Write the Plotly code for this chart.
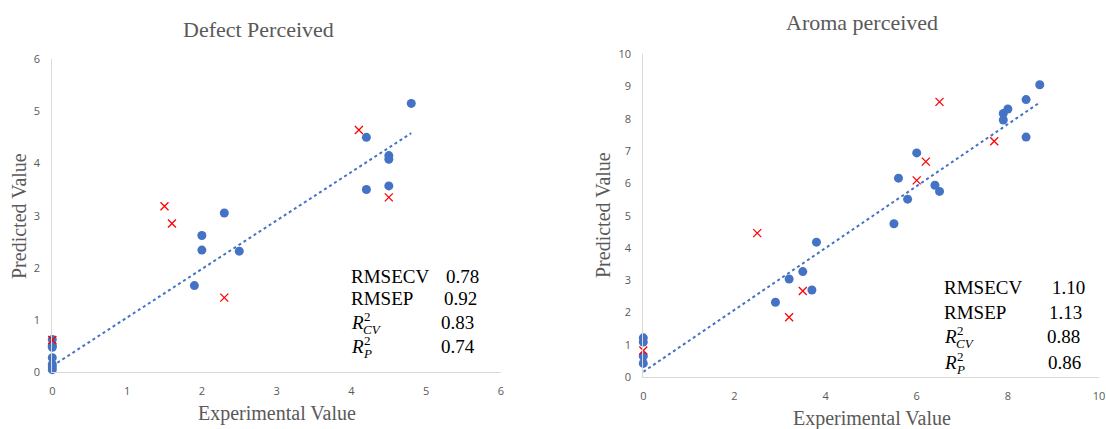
import plotly.graph_objects as go

# ---------------- data ----------------
# Defect perceived
defect_cal_x = [0, 0, 0, 0, 0, 0, 0, 1.9, 2.0, 2.0, 2.3, 2.5, 4.2, 4.2, 4.5, 4.5, 4.5, 4.8]
defect_cal_y = [0.63, 0.52, 0.48, 0.28, 0.15, 0.10, 0.05, 1.66, 2.62, 2.34, 3.05, 2.32, 4.50, 3.50, 4.15, 4.08, 3.57, 5.15]
defect_val_x = [0, 1.5, 1.6, 2.3, 4.1, 4.5]
defect_val_y = [0.62, 3.18, 2.85, 1.43, 4.64, 3.35]
defect_trend_x = [0, 4.8]
defect_trend_y = [0.12, 4.58]

# Aroma perceived
aroma_cal_x = [0, 0, 0, 0, 2.9, 3.2, 3.5, 3.7, 3.8, 5.5, 5.6, 5.8, 6.0, 6.4, 6.5, 7.9, 7.9, 8.0, 8.4, 8.4, 8.7]
aroma_cal_y = [1.22, 1.09, 0.65, 0.43, 2.32, 3.04, 3.27, 2.70, 4.18, 4.75, 6.16, 5.51, 6.94, 5.94, 5.75, 8.16, 7.96, 8.30, 8.59, 7.43, 9.05]
aroma_val_x = [0, 2.5, 3.2, 3.5, 6.0, 6.2, 6.5, 7.7]
aroma_val_y = [0.83, 4.46, 1.86, 2.67, 6.09, 6.67, 8.52, 7.30]
aroma_trend_x = [0, 8.7]
aroma_trend_y = [0.17, 8.50]

titles = ["Defect Perceived", "Aroma perceived"]
stat_labels = ["RMSECV", "RMSEP"]
defect_stats = ["0.78", "0.92", "0.83", "0.74"]
aroma_stats = ["1.10", "1.13", "0.88", "0.86"]

# ---------------- style ----------------
W, H = 1106, 429
BLUE = "#4472C4"
RED = "#FF0000"
SERIF = "Liberation Serif, Times New Roman, serif"
SANS = "Open Sans, Liberation Sans, sans-serif"
GRAY = "#595959"
AX = "#D9D9D9"

def px(x):
    return x / W

def py(y):
    return 1 - y / H

fig = go.Figure()

panels = [
    dict(xa="x", ya="y", cx=defect_cal_x, cy=defect_cal_y, vx=defect_val_x, vy=defect_val_y,
         tx=defect_trend_x, ty=defect_trend_y),
    dict(xa="x2", ya="y2", cx=aroma_cal_x, cy=aroma_cal_y, vx=aroma_val_x, vy=aroma_val_y,
         tx=aroma_trend_x, ty=aroma_trend_y),
]

for p in panels:
    fig.add_trace(go.Scatter(x=p["tx"], y=p["ty"], mode="lines", xaxis=p["xa"], yaxis=p["ya"],
                             line=dict(color=BLUE, width=2, dash="dot"), showlegend=False,
                             hoverinfo="skip"))
    fig.add_trace(go.Scatter(x=p["cx"], y=p["cy"], mode="markers", xaxis=p["xa"], yaxis=p["ya"],
                             marker=dict(color=BLUE, size=9, line=dict(width=0)), showlegend=False,
                             cliponaxis=False))
    fig.add_trace(go.Scatter(x=p["vx"], y=p["vy"], mode="markers", xaxis=p["xa"], yaxis=p["ya"],
                             marker=dict(color=RED, size=8, symbol="x-thin", line=dict(color=RED, width=1.3)),
                             showlegend=False, cliponaxis=False))

axis_common = dict(showgrid=False, zeroline=False, showline=True, linecolor=AX, linewidth=1,
                   ticks="", tickfont=dict(family=SANS, size=11, color=GRAY), fixedrange=True)

fig.update_layout(
    width=W, height=H,
    margin=dict(l=0, r=0, t=0, b=0, autoexpand=False),
    plot_bgcolor="white", paper_bgcolor="white",
    xaxis=dict(domain=[px(52.3), px(501)], range=[0, 6], dtick=1, anchor="y",
               ticklabelstandoff=8, **axis_common),
    yaxis=dict(domain=[py(372.3), py(59)], range=[0, 6], dtick=1, anchor="x",
               ticklabelstandoff=9, **axis_common),
    xaxis2=dict(domain=[px(643.3), px(1099)], range=[0, 10], dtick=2, anchor="y2",
                ticklabelstandoff=8, **axis_common),
    yaxis2=dict(domain=[py(377.3), py(54)], range=[0, 10], dtick=1, anchor="x2",
                ticklabelstandoff=9, **axis_common),
)

anns = []

def text(x, y, s, size, color="black", xanchor="left", angle=0):
    anns.append(dict(x=px(x), y=py(y), xref="paper", yref="paper", text=s, showarrow=False,
                     xanchor=xanchor, yanchor="middle", textangle=angle,
                     font=dict(family=SERIF, size=size, color=color)))

# titles
text(258, 29, titles[0], 22, GRAY, "center")
text(862, 22, titles[1], 22, GRAY, "center")
# axis titles
text(277, 413, "Experimental Value", 20, GRAY, "center")
text(872, 418, "Experimental Value", 20, GRAY, "center")
text(19, 216, "Predicted Value", 20, GRAY, "center", -90)
text(603, 215, "Predicted Value", 20, GRAY, "center", -90)

# stats blocks
blocks = [
    dict(x0=349, ys=[276, 298, 322, 346], vx=[444, 442, 439, 439], vals=defect_stats),
    dict(x0=352 + 590, ys=[287, 312, 336, 362], vx=[1050, 1047, 1045, 1046], vals=aroma_stats),
]
for b in blocks:
    x0 = b["x0"]
    text(x0, b["ys"][0], stat_labels[0], 19)
    text(x0, b["ys"][1], stat_labels[1], 19)
    for i, sub in ((2, "CV"), (3, "P")):
        yc = b["ys"][i]
        text(x0, yc, "<i>R</i>", 19)
        text(x0 + 13, yc - 6, "2", 13)
        text(x0 + 12, yc + 7, "<i>%s</i>" % sub, 13)
    for v, vx, yc in zip(b["vals"], b["vx"], b["ys"]):
        text(vx, yc, v, 19)

fig.update_layout(annotations=anns)

fig.write_html("out.html", config={"displayModeBar": False},
               post_script="document.body.style.margin='0';document.body.style.padding='0';")
